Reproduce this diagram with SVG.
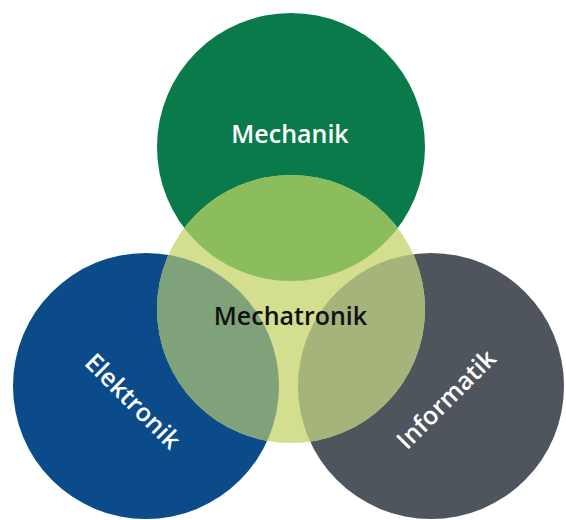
<svg xmlns="http://www.w3.org/2000/svg" width="566" height="520" viewBox="0 0 566 520">
  <style>
    .lbl { font-family: "Open Sans", "Noto Sans", "Liberation Sans", sans-serif; font-size: 25px; font-weight: 600; text-anchor: middle; }
    .light { fill: #ffffff; }
    .dark { fill: #111111; }
  </style>
  <defs>
    <clipPath id="clipMech"><circle cx="291" cy="147" r="134"/></clipPath>
    <clipPath id="clipElek"><circle cx="146" cy="386" r="133"/></clipPath>
    <clipPath id="clipInfo"><circle cx="431" cy="386" r="133"/></clipPath>
  </defs>
  <rect width="566" height="520" fill="#ffffff"/>

  <g id="mechanik">
    <circle cx="291" cy="147" r="134" fill="#0b7a4b"/>
  </g>
  <g id="elektronik">
    <circle cx="146" cy="386" r="133" fill="#0b4b89"/>
  </g>
  <g id="informatik">
    <circle cx="431" cy="386" r="133" fill="#4e555c"/>
  </g>

  <g id="mechatronik">
    <circle cx="291" cy="309" r="134" fill="#d3de8f"/>
    <!-- overlaps of the centre circle with each outer circle -->
    <circle cx="291" cy="309" r="134" fill="#8cbd5c" clip-path="url(#clipMech)"/>
    <circle cx="291" cy="309" r="134" fill="#80a27b" clip-path="url(#clipElek)"/>
    <circle cx="291" cy="309" r="134" fill="#a4b47b" clip-path="url(#clipInfo)"/>
  </g>

  <g id="labels">
    <text class="lbl light" x="290" y="143">Mechanik</text>
    <text class="lbl dark" x="290.5" y="325">Mechatronik</text>
    <text class="lbl light" transform="translate(133,401) rotate(45)" x="0" y="9">Elektronik</text>
    <text class="lbl light" transform="translate(446,399) rotate(-45)" x="0" y="9">Informatik</text>
  </g>
</svg>
